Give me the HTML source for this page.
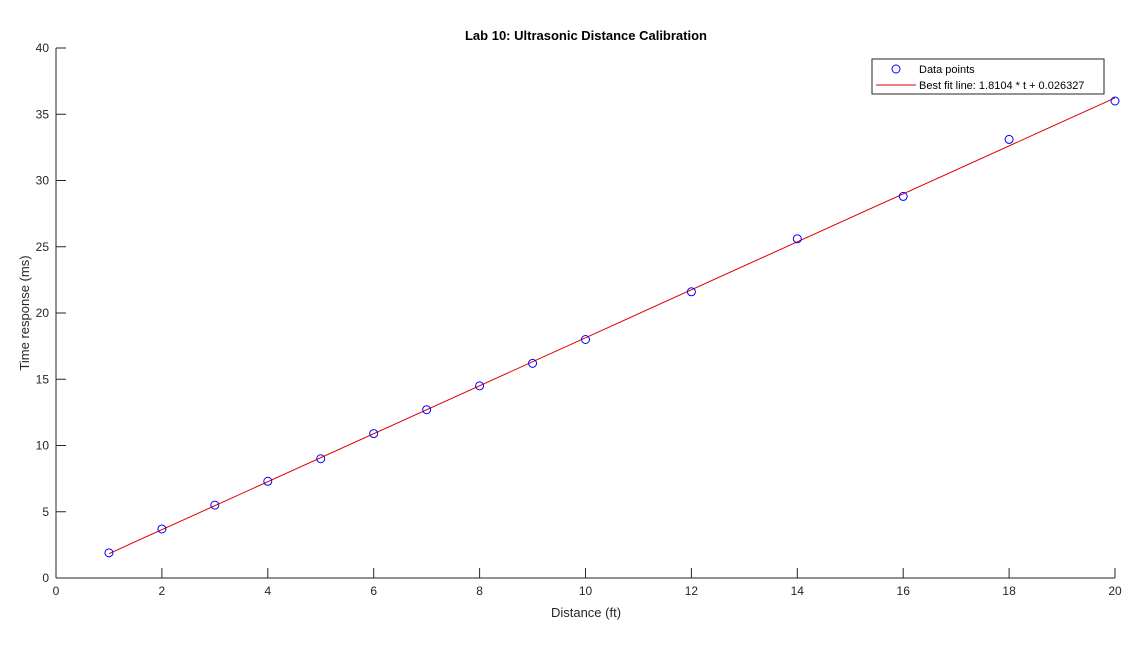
<!DOCTYPE html>
<html><head><meta charset="utf-8"><style>
body{margin:0;background:#fff;}
svg{display:block;font-family:"Liberation Sans",Arial,sans-serif;}
</style></head><body>
<svg id="chart" width="1132" height="648">
<rect width="1132" height="648" fill="#fff"/>
<text x="586" y="40" text-anchor="middle" font-size="13" font-weight="bold" fill="#000">Lab 10: Ultrasonic Distance Calibration</text>
<g id="axes"></g>
<g id="marks"></g>
<text x="586" y="617" text-anchor="middle" font-size="13" fill="#262626">Distance (ft)</text>
<text transform="translate(29,313) rotate(-90)" text-anchor="middle" font-size="13" fill="#262626">Time response (ms)</text>
<g>
<rect x="872" y="59" width="232" height="35" fill="#fff" stroke="#262626" stroke-width="1"/>
<circle cx="896" cy="69" r="4" fill="none" stroke="#0000ff" stroke-width="1"/>
<text x="919" y="73" font-size="11" fill="#000">Data points</text>
<line x1="876" y1="85" x2="916" y2="85" stroke="#e00000" stroke-width="1"/>
<text x="919" y="89" font-size="11" fill="#000">Best fit line: 1.8104 * t + 0.026327</text>
</g>
</svg>
<script>
const distances=[1,2,3,4,5,6,7,8,9,10,12,14,16,18,20];
const times=[1.9,3.7,5.5,7.3,9.0,10.9,12.7,14.5,16.2,18.0,21.6,25.6,28.8,33.1,36.0];
const fitSlope=1.8104;
const fitIntercept=0.026327;
const xTicks=[0,2,4,6,8,10,12,14,16,18,20];
const yTicks=[0,5,10,15,20,25,30,35,40];
const NS="http://www.w3.org/2000/svg";
const X0=56,X1=1115,Y0=578,Y1=48;
const sx=v=>X0+(v-0)/(20-0)*(X1-X0);
const sy=v=>Y0-(v-0)/(40-0)*(Y0-Y1);
function mk(t,a,p){const e=document.createElementNS(NS,t);for(const k in a)e.setAttribute(k,a[k]);p.appendChild(e);return e;}
const ax=document.getElementById('axes'),mg=document.getElementById('marks');
let l=mk('line',{x1:X0,y1:Y0,x2:X1,y2:Y0,stroke:'#262626'},ax);


l=mk('line',{x1:X0,y1:Y0,x2:X0,y2:Y1,stroke:'#262626'},ax);


xTicks.forEach(v=>{
 mk('line',{x1:sx(v),y1:Y0,x2:sx(v),y2:Y0-10,stroke:'#262626'},ax);
 const t=mk('text',{x:sx(v),y:Y0+17,'text-anchor':'middle','font-size':12,fill:'#262626'},ax);
 t.textContent=v;
 
 
});
yTicks.forEach(v=>{
 mk('line',{x1:X0,y1:sy(v),x2:X0+10,y2:sy(v),stroke:'#262626'},ax);
 const t=mk('text',{x:X0-7,y:sy(v)+4,'text-anchor':'end','font-size':12,fill:'#262626'},ax);
 t.textContent=v;
 
 
});
const xa=distances[0],xb=distances[distances.length-1];
const fl=mk('line',{x1:sx(xa),y1:sy(fitSlope*xa+fitIntercept),x2:sx(xb),y2:sy(fitSlope*xb+fitIntercept),stroke:'#e00000','stroke-width':1},mg);


distances.forEach((d,i)=>{
 const c=mk('circle',{cx:sx(d),cy:sy(times[i]),r:4,fill:'none',stroke:'#0000ff','stroke-width':1},mg);
 
 
});
</script>
</body></html>
